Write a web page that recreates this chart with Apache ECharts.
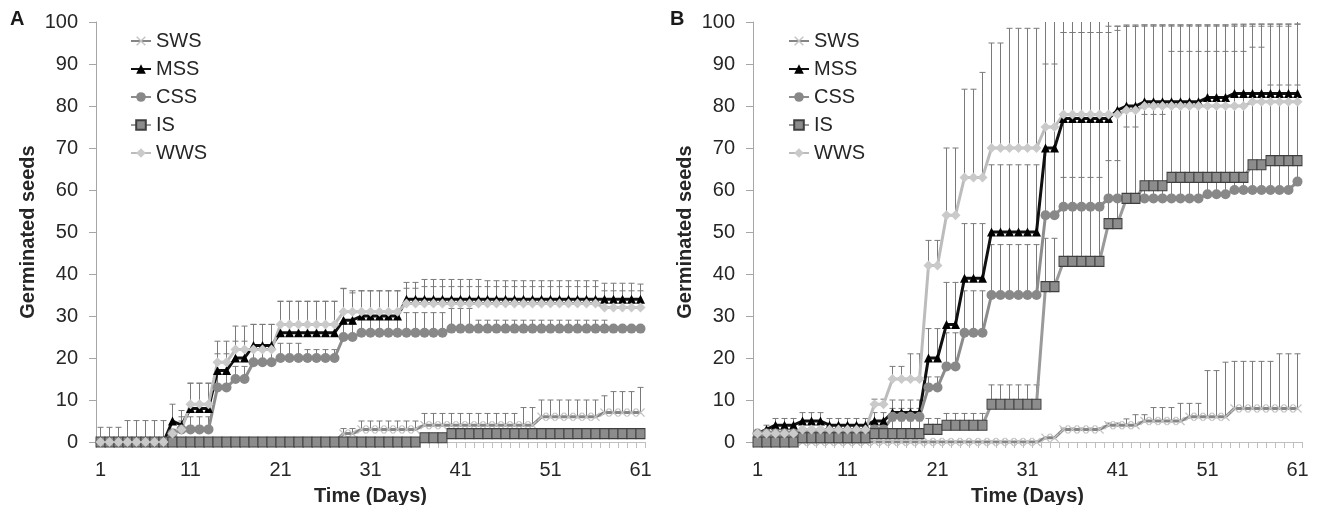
<!DOCTYPE html>
<html>
<head>
<meta charset="utf-8">
<script src="https://cdn.jsdelivr.net/npm/echarts@6/dist/echarts.min.js"></script>
<style>
  html, body { margin: 0; padding: 0; background: #fff; }
  #chart { width: 1319px; height: 505px; }
</style>
</head>
<body>
<div id="chart"></div>
<script>
// days on the x axis
const days = [1,2,3,4,5,6,7,8,9,10,11,12,13,14,15,16,17,18,19,20,21,22,23,24,25,26,27,28,29,30,
  31,32,33,34,35,36,37,38,39,40,41,42,43,44,45,46,47,48,49,50,51,52,53,54,55,56,57,58,59,60,61];
const yTicks = [0, 100, 10]; // min, max, step

// panel A : means
const aSWS = [0,0,0,0,0,0,0,0,0,0,0,0,0,0,0,0,0,0,0,0,0,0,0,0,0,0,0,2,2,3,3,3,3,3,3,3,4,4,4,4,4,4,4,4,4,4,4,4,4,6,6,6,6,6,6,6,7,7,7,7,7];
const aMSS = [0,0,0,0,0,0,0,0,5,4,8,8,8,17,17,20,20,23,23,23,26,26,26,26,26,26,26,29,29,30,30,30,30,30,34,34,34,34,34,34,34,34,34,34,34,34,34,34,34,34,34,34,34,34,34,34,34,34,34,34,34];
const aCSS = [0,0,0,0,0,0,0,0,2,3,3,3,3,13,13,15,15,19,19,19,20,20,20,20,20,20,20,25,25,26,26,26,26,26,26,26,26,26,26,27,27,27,27,27,27,27,27,27,27,27,27,27,27,27,27,27,27,27,27,27,27];
const aIS  = [0,0,0,0,0,0,0,0,0,0,0,0,0,0,0,0,0,0,0,0,0,0,0,0,0,0,0,0,0,0,0,0,0,0,0,0,1,1,1,2,2,2,2,2,2,2,2,2,2,2,2,2,2,2,2,2,2,2,2,2,2];
const aWWS = [0,0,0,0,0,0,0,0,2,3,9,9,9,19,19,22,22,22,22,22,28,28,28,28,28,28,28,31,31,31,31,31,31,31,33,33,33,33,33,33,33,33,33,33,33,33,33,33,33,33,33,33,33,33,33,33,32,32,32,32,32];
// panel A : upper error
const aSWSe = [0,0,0,0,0,0,0,0,0,0,0,0,0,0,0,0,0,0,0,0,0,0,0,0,0,0,0,1.2,1.2,2,2,2,2,2,2,2,2.8,2.8,2.8,2.8,2.8,2.8,2.8,2.8,2.8,2.8,2.8,4.2,4.2,4,4,4,4,4,4,4,4,5,5,5,6];
const aMSSe = [0,0,0,0,0,0,0,0,4,3.5,6,6,6,4,4,4,4,5,5,5,7.5,7.5,7.5,7.5,7.5,7.5,7.5,7.5,6.5,6,6,6,6,6,4,4,4.7,4.7,4.7,4.7,4.7,4.7,4.7,4.4,4.4,4.4,4.4,4.4,4.4,4.4,4.4,4.4,4.4,4.4,4.4,4.4,3.8,3.8,3.8,3.8,3.6];
const aCSSe = [0,0,0,0,0,0,0,0,1,3,3,3,3,3.5,3.5,3,3,3,3,3,3.5,3.5,3.5,2,2,2,2,3,3,4.8,4.8,4.8,4.8,4.8,4.8,4.8,4.8,4.8,4.8,4.8,4.8,4.8,2,2,2,2,2,2,2,2,2,2,2,2,2,2,2,0,0,0,0];
const aISe  = [0,0,0,0,0,0,0,0,0,0,0,0,0,0,0,0,0,0,0,0,0,0,0,0,0,0,0,0,0,0,0,0,0,0,0,0,0.8,0.8,0.8,1,1,1,1,1,1,1,1,1,1,1,1,1,1,1,1,1,1,1,1,1,1];
const aWWSe = [3.5,3.5,3.5,5.1,5.1,5.1,5.1,5.1,1,2,5,5,5,5,5,5.6,5.6,6,6,6,5.5,5.5,5.5,5.5,5.5,5.5,5.5,5.6,5,5,5,5,5,5,3.6,3.6,4,4,4,4,4,4,4,4,4,4,4,4,4,4,4,4,4,4,4,4,4,4,4,4,4];

// panel B : means
const bSWS = [0,0,0,0,0,0,0,0,0,0,0,0,0,0,0,0,0,0,0,0,0,0,0,0,0,0,0,0,0,0,0,0,1,1,3,3,3,3,3,4,4,4,4,5,5,5,5,5,6,6,6,6,6,8,8,8,8,8,8,8,8];
const bMSS = [2,3,4,4,4,5,5,5,4,4,4,4,4,5,5,7,7,7,7,20,20,28,28,39,39,39,50,50,50,50,50,50,70,70,77,77,77,77,77,77,79,80,80,81,81,81,81,81,81,81,82,82,82,83,83,83,83,83,83,83,83];
const bCSS = [2,2,2,2,2,2,2,2,2,2,2,2,2,3,3,6,6,6,6,13,13,18,18,26,26,26,35,35,35,35,35,35,54,54,56,56,56,56,56,58,58,58,58,58,58,58,58,58,58,58,59,59,59,60,60,60,60,60,60,60,62];
const bIS  = [0,0,0,0,0,1,1,1,1,1,1,1,1,2,2,2,2,2,2,3,3,4,4,4,4,4,9,9,9,9,9,9,37,37,43,43,43,43,43,52,52,58,58,61,61,61,63,63,63,63,63,63,63,63,63,66,66,67,67,67,67];
const bWWS = [2,2,2,2,2,3,3,3,3,3,3,3,3,9,9,15,15,15,15,42,42,54,54,63,63,63,70,70,70,70,70,70,75,75,78,78,78,78,78,78,78,79,79,80,80,80,80,80,80,80,80,80,80,80,80,81,81,81,81,81,81];
// panel B : upper error
const bSWSe = [0,0,0,0,0,0,0,0,0,0,0,0,0,0,0,0,0,0,0,0,0,0,0,0,0,0,0,0,0,0,0,0,0,0,0.3,0.3,0.3,0.3,0.3,0.5,0.5,1.5,2.5,1.5,3.2,3.2,3.2,4.2,3.2,3.2,11,11,13,11.2,11.2,11.2,11.2,11.2,13,13,13];
const bMSSe = [0,1,1.6,1.6,1.6,2,2,2,1.6,1.6,1.6,1.6,1.6,2,2,3,3,3,3,7,7,10,10,13,13,13,16,16,16,16,16,16,35,35,30,30,30,30,30,30,20,19.3,19.3,18.3,18.3,18.3,18.3,18.3,18.3,18.3,17.3,17.3,17.3,16.5,16.5,16.5,16.5,16.5,16.5,16.5,16.5];
const bCSSe = [0.5,0.5,0.5,0.5,0.5,0.5,0.5,0.5,0.5,0.5,0.5,0.5,0.5,0.5,0.5,2,2,2,2,2.5,2.5,8,8,10,10,10,12,12,12,12,12,12,36,36,41.5,41.5,41.5,41.5,41.5,41,41,41,41,41,41,41,41,41,41,41,40,40,40,39,39,39,39,39,39,39,39];
const bISe  = [0,0,0,0,0,0.5,0.5,0.5,0.5,0.5,0.5,0.5,0.5,3,3,3,3,3,3,2.6,2.6,2.8,2.8,2.8,2.8,2.8,4.6,4.6,4.6,4.6,4.6,4.6,11.5,11.5,20,20,20,20,20,15,15,17,17,17,17,17,30,30,30,30,30,30,30,30,30,28,28,18,18,18,18];
const bWWSe = [0.5,0.5,0.5,0.5,0.5,0.5,0.5,0.5,0.5,0.5,0.5,0.5,0.5,1.2,1.2,3,3,6,6,6,6,16,16,21,21,25,25,25,28.5,28.5,28.5,28.5,35,35,19.5,19.5,19.5,19.5,19.5,19.5,20,20,20,19.3,19.3,19.3,19.3,19.3,19.3,19.3,19.3,19.3,19.3,19.3,19.3,18.5,18.5,18.5,18.5,18.5,18.5];

const names = ["SWS", "MSS", "CSS", "IS", "WWS"];
const panelA = { SWS: [aSWS, aSWSe], MSS: [aMSS, aMSSe], CSS: [aCSS, aCSSe], IS: [aIS, aISe], WWS: [aWWS, aWWSe] };
const panelB = { SWS: [bSWS, bSWSe], MSS: [bMSS, bMSSe], CSS: [bCSS, bCSSe], IS: [bIS, bISe], WWS: [bWWS, bWWSe] };

const FONT = "Liberation Sans, Arial, sans-serif";
const X_MARK = "path://M0,1 L1,0 L5,4 L9,0 L10,1 L6,5 L10,9 L9,10 L5,6 L1,10 L0,9 L4,5 Z";

// look of each treatment
const looks = {
  SWS: { line: "#858585", symbol: X_MARK, size: 9, fill: "#c2c2c2" },
  MSS: { line: "#111111", symbol: "triangle", size: 9, fill: "#000000" },
  CSS: { line: "#8c8c8c", symbol: "circle", size: 10, fill: "#888888" },
  IS:  { line: "#9a9a9a", symbol: "rect", size: [9, 10], fill: "#8c8c8c", border: "#3f3f3f" },
  WWS: { line: "#bcbcbc", symbol: "diamond", size: 10, fill: "#cacaca" }
};

// upper error bar, cut at the top of the axis
function renderErr(params, api) {
  const i = api.value(0), m = api.value(1), e = api.value(2);
  if (!e) return null;
  const top = Math.min(m + e, yTicks[1]);
  const p0 = api.coord([i, m]);
  const p1 = api.coord([i, top]);
  const st = { stroke: "#7a7a7a", lineWidth: 1 };
  const kids = [{ type: "line", shape: { x1: p0[0], y1: p0[1], x2: p1[0], y2: p1[1] }, style: st }];
  if (m + e <= yTicks[1]) {
    kids.push({ type: "line", shape: { x1: p1[0] - 3, y1: p1[1], x2: p1[0] + 3, y2: p1[1] }, style: st });
  }
  return { type: "group", children: kids };
}

const series = [];
[panelA, panelB].forEach((panel, g) => {
  names.forEach(n => {
    const vals = panel[n][0], errs = panel[n][1];
    series.push({
      type: "custom",
      xAxisIndex: g, yAxisIndex: g,
      renderItem: renderErr,
      silent: true,
      z: 1,
      data: vals.map((v, i) => [i, v, errs[i]])
    });
  });
  names.forEach(n => {
    const lk = looks[n];
    series.push({
      name: n,
      type: "line",
      xAxisIndex: g, yAxisIndex: g,
      z: 2,
      data: panel[n][0],
      symbol: lk.symbol,
      symbolSize: lk.size,
      showAllSymbol: true,
      lineStyle: { color: lk.line, width: 3 },
      itemStyle: { color: lk.fill, borderColor: lk.border || lk.fill, borderWidth: lk.border ? 1 : 0 }
    });
  });
});

function xAx(g) {
  return {
    type: "category", gridIndex: g, data: days, boundaryGap: true,
    name: "Time (Days)", nameLocation: "middle", nameGap: 44,
    nameTextStyle: { fontFamily: FONT, fontSize: 20, fontWeight: "bold", color: "#262626" },
    axisLine: { lineStyle: { color: "#bfbfbf", width: 1 } },
    axisTick: { show: true, interval: 0, length: 6, lineStyle: { color: "#bfbfbf" } },
    axisLabel: { interval: 9, margin: 18, fontFamily: FONT, fontSize: 20, color: "#262626" },
    splitLine: { show: false }
  };
}
function yAx(g) {
  return {
    type: "value", gridIndex: g, min: yTicks[0], max: yTicks[1], interval: yTicks[2],
    name: "Germinated seeds", nameLocation: "middle", nameGap: 58,
    nameTextStyle: { fontFamily: FONT, fontSize: 20, fontWeight: "bold", color: "#262626" },
    axisLine: { show: true, lineStyle: { color: "#a6a6a6", width: 1 } },
    axisTick: { show: true, length: 7, lineStyle: { color: "#a6a6a6" } },
    axisLabel: { margin: 18, fontFamily: FONT, fontSize: 20, color: "#262626" },
    splitLine: { show: false }
  };
}
function legendAt(left) {
  return {
    orient: "vertical", left: left, top: 26, itemGap: 8,
    itemWidth: 20, itemHeight: 12,
    data: names,
    textStyle: { fontFamily: FONT, fontSize: 20, color: "#262626" }
  };
}

const chart = echarts.init(document.getElementById("chart"));
chart.setOption({
  animation: false,
  backgroundColor: "#ffffff",
  title: [
    { text: "A", left: 5, top: 4, textStyle: { fontFamily: FONT, fontSize: 20, fontWeight: "bold", color: "#1a1a1a" } },
    { text: "B", left: 665, top: 4, textStyle: { fontFamily: FONT, fontSize: 20, fontWeight: "bold", color: "#1a1a1a" } }
  ],
  legend: [legendAt(125), legendAt(783)],
  grid: [
    { left: 96, top: 22, width: 549, height: 420, outerBoundsMode: "none" },
    { left: 753, top: 22, width: 549, height: 420, outerBoundsMode: "none" }
  ],
  xAxis: [xAx(0), xAx(1)],
  yAxis: [yAx(0), yAx(1)],
  series: series
});
window.addEventListener("resize", () => chart.resize());
</script>
</body>
</html>
